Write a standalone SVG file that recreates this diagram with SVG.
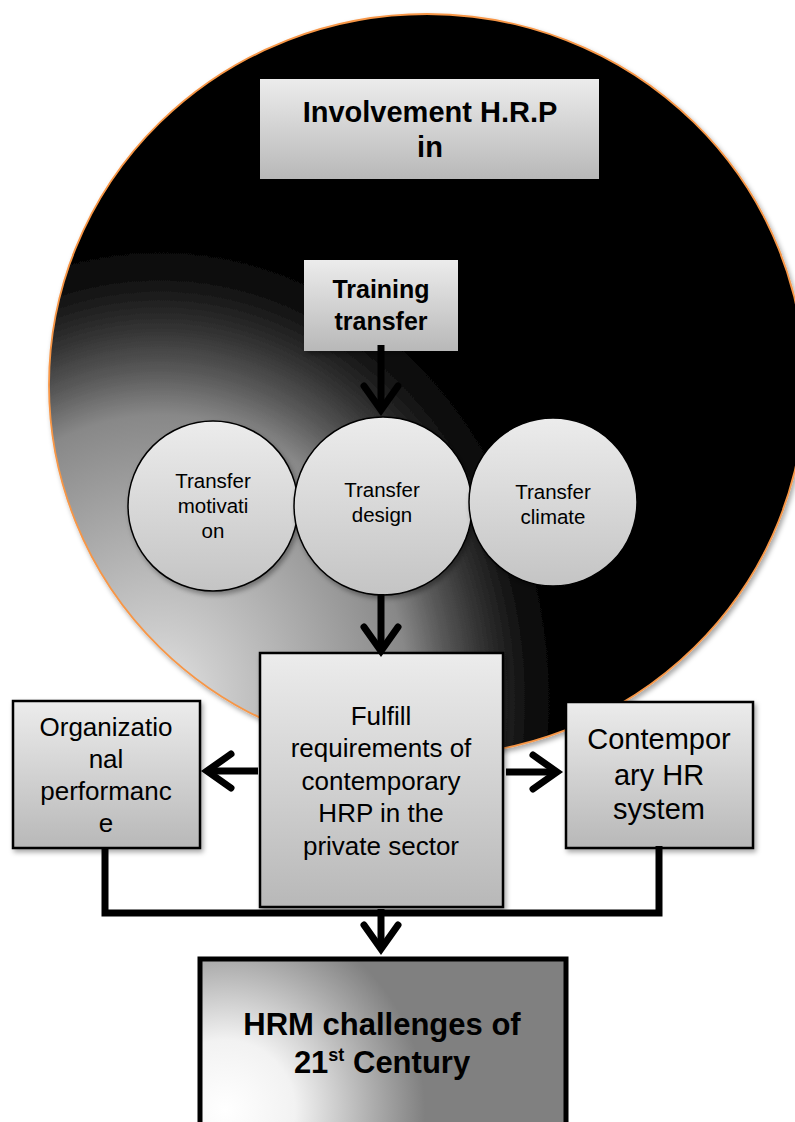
<svg xmlns="http://www.w3.org/2000/svg" width="795" height="1122" viewBox="0 0 795 1122">
<defs>
  <radialGradient id="bigGrad" gradientUnits="userSpaceOnUse" cx="160" cy="700" r="420" gradientTransform="translate(160 700) scale(1 1.15) translate(-160 -700)">
    <stop offset="0" stop-color="#e4e4e4"/>
    <stop offset="0.14" stop-color="#cccccc"/>
    <stop offset="0.59" stop-color="#888888"/>
    <stop offset="0.68" stop-color="#5a5a5a"/>
    <stop offset="0.77" stop-color="#333333"/>
    <stop offset="0.87" stop-color="#111111"/>
    <stop offset="0.96" stop-color="#000000"/>
    <stop offset="1" stop-color="#000000"/>
  </radialGradient>
  <linearGradient id="boxGrad" x1="0" y1="0" x2="0" y2="1">
    <stop offset="0" stop-color="#ececec"/>
    <stop offset="1" stop-color="#b8b8b8"/>
  </linearGradient>
  <linearGradient id="circGrad" x1="0" y1="0" x2="0" y2="1">
    <stop offset="0" stop-color="#ececec"/>
    <stop offset="1" stop-color="#c4c4c4"/>
  </linearGradient>
  <radialGradient id="hrmGrad" gradientUnits="userSpaceOnUse" cx="225" cy="1110" r="200">
    <stop offset="0" stop-color="#ffffff"/>
    <stop offset="0.35" stop-color="#f2f2f2"/>
    <stop offset="0.75" stop-color="#ababab"/>
    <stop offset="1" stop-color="#808080"/>
  </radialGradient>
  <filter id="shadow" x="-10%" y="-10%" width="130%" height="130%">
    <feDropShadow dx="2" dy="3" stdDeviation="2.5" flood-color="#000" flood-opacity="0.35"/>
  </filter>
  <marker id="chev" viewBox="-30 -22 40 44" refX="0" refY="0" markerUnits="userSpaceOnUse" markerWidth="40" markerHeight="44" orient="auto">
    <path d="M -24 -17 L 0 0 L -24 17" fill="none" stroke="#000" stroke-width="7" stroke-linecap="round" stroke-linejoin="miter"/>
  </marker>
  <style>
    .t { font-family: "Liberation Sans", Arial, sans-serif; fill: #000; text-anchor: middle; }
    .b { font-weight: bold; }
    .box { fill: url(#boxGrad); filter: url(#shadow); }
    .bbox { fill: url(#boxGrad); stroke: #000; stroke-width: 2.5; filter: url(#shadow); }
    .circ { fill: url(#circGrad); stroke: #000; stroke-width: 1.5; filter: url(#shadow); }
    .ct { font-size: 20.5px; }
    .con { fill: none; stroke: #000; stroke-width: 7; }
  </style>
</defs>
<rect width="795" height="1122" fill="#fff"/>

<g id="background-sphere">
  <ellipse cx="427" cy="385" rx="378" ry="371" fill="url(#bigGrad)" stroke="#f79646" stroke-width="1.8" filter="url(#shadow)"/>
</g>

<g id="node-involvement">
  <rect class="box" x="260" y="79" width="339" height="100"/>
  <text class="t b" font-size="29" x="430" y="122">Involvement H.R.P</text>
  <text class="t b" font-size="29" x="430" y="157">in</text>
</g>

<g id="node-training">
  <rect class="box" x="304" y="260" width="154" height="91"/>
  <text class="t b" font-size="25" x="381" y="298">Training</text>
  <text class="t b" font-size="25" x="381" y="330">transfer</text>
</g>

<g id="node-motivation">
  <circle class="circ" cx="213" cy="506" r="85"/>
  <text class="t ct" x="213" y="488">Transfer</text>
  <text class="t ct" x="213" y="513">motivati</text>
  <text class="t ct" x="213" y="538">on</text>
</g>

<g id="node-design">
  <circle class="circ" cx="383" cy="506" r="89"/>
  <text class="t ct" x="382" y="497">Transfer</text>
  <text class="t ct" x="382" y="522">design</text>
</g>

<g id="node-climate">
  <circle class="circ" cx="553" cy="502" r="84"/>
  <text class="t ct" x="553" y="499">Transfer</text>
  <text class="t ct" x="553" y="524">climate</text>
</g>

<g id="node-fulfill">
  <rect class="bbox" x="260" y="653" width="243" height="254"/>
  <text class="t" font-size="26" x="381" y="725">Fulfill</text>
  <text class="t" font-size="26" x="381" y="757">requirements of</text>
  <text class="t" font-size="26" x="381" y="790">contemporary</text>
  <text class="t" font-size="26" x="381" y="822">HRP in the</text>
  <text class="t" font-size="26" x="381" y="855">private sector</text>
</g>

<g id="node-organizational">
  <rect class="bbox" x="13" y="701" width="187" height="147"/>
  <text class="t" font-size="26" x="106" y="736">Organizatio</text>
  <text class="t" font-size="26" x="106" y="768">nal</text>
  <text class="t" font-size="26" x="106" y="800">performanc</text>
  <text class="t" font-size="26" x="106" y="832">e</text>
</g>

<g id="node-contemporary">
  <rect class="bbox" x="566" y="702" width="187" height="146"/>
  <text class="t" font-size="29" x="659" y="749">Contempor</text>
  <text class="t" font-size="29" x="659" y="785">ary HR</text>
  <text class="t" font-size="29" x="659" y="819">system</text>
</g>

<g id="node-hrm">
  <rect x="200" y="959" width="366" height="175" fill="url(#hrmGrad)" stroke="#000" stroke-width="5"/>
  <text class="t b" font-size="31" x="382" y="1035">HRM challenges of</text>
  <text class="t b" font-size="31" x="382" y="1073">21<tspan font-size="18" dy="-12">st</tspan><tspan dy="12"> Century</tspan></text>
</g>

<g id="connectors">
  <line class="con" x1="381" y1="345" x2="381" y2="410" marker-end="url(#chev)"/>
  <line class="con" x1="381" y1="594" x2="381" y2="651" marker-end="url(#chev)"/>
  <line class="con" x1="258" y1="771" x2="207" y2="771" marker-end="url(#chev)"/>
  <line class="con" x1="506" y1="772" x2="557" y2="772" marker-end="url(#chev)"/>
  <polyline class="con" stroke-width="8" points="105,848 105,913 659,913 659,846"/>
  <line class="con" x1="381" y1="909" x2="381" y2="949" marker-end="url(#chev)"/>
</g>
</svg>
